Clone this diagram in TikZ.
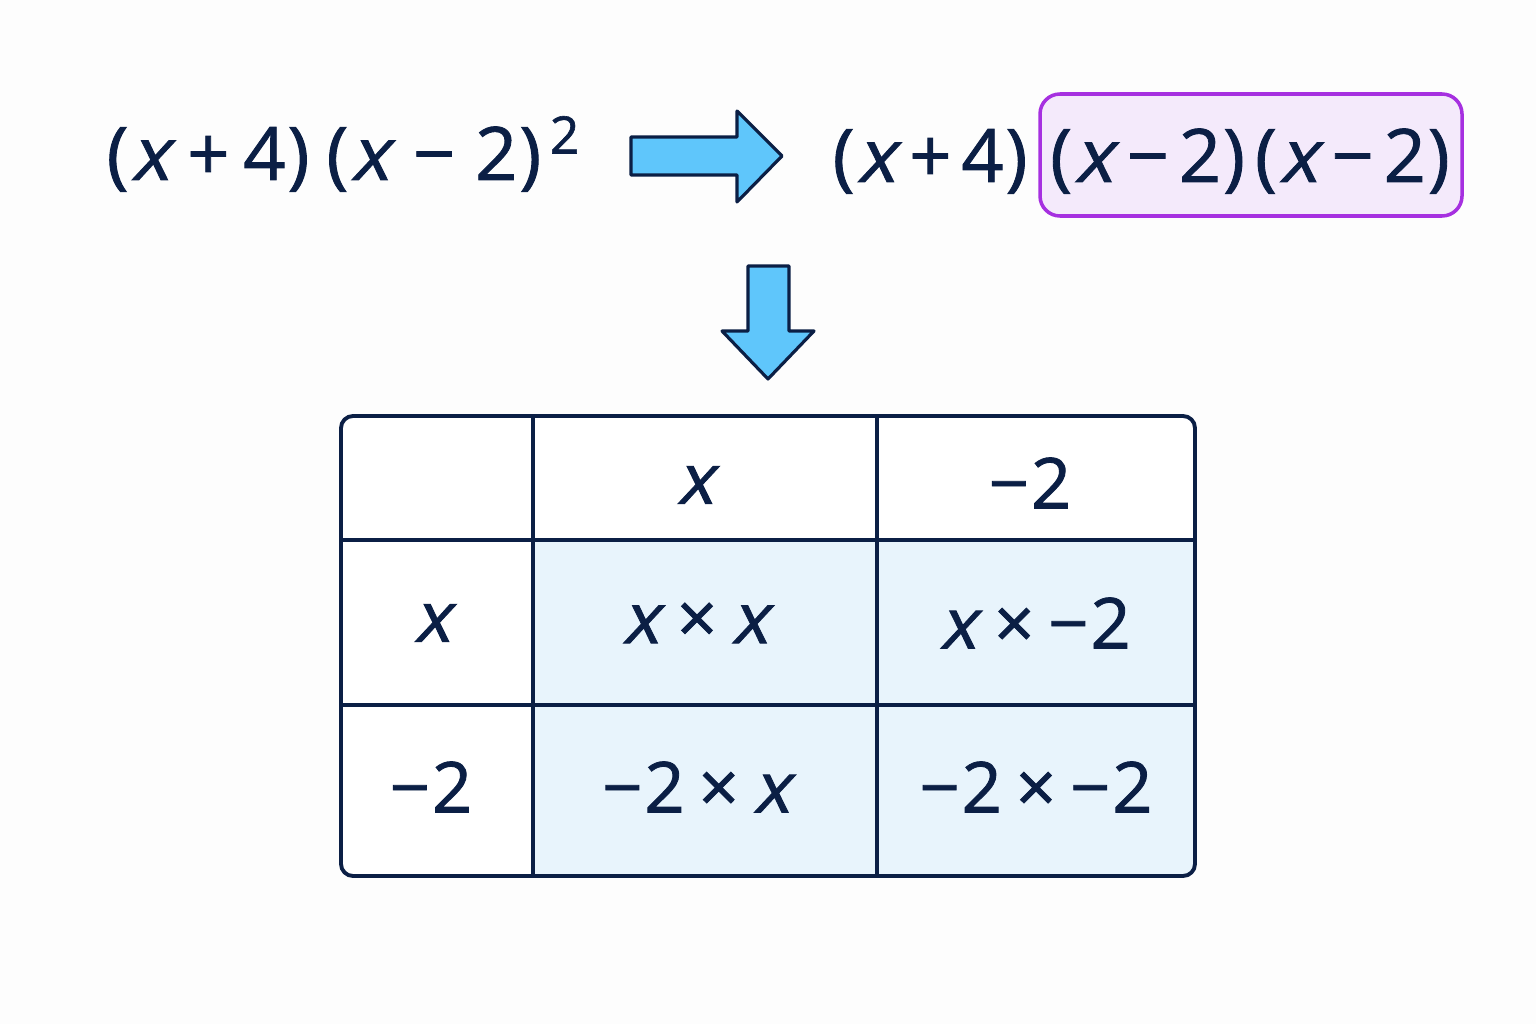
\documentclass[tikz,border=0pt]{standalone}
\usepackage{fontspec}
\setmainfont{Open Sans}[FakeBold=1.2]
\newfontfamily\xslant[FakeSlant=0.22,FakeBold=1.2]{Open Sans}
\usepackage{tikz}
\usetikzlibrary{arrows.meta, positioning}

\definecolor{ink}{HTML}{0B1F45}
\definecolor{arrowblue}{HTML}{5FC6FB}
\definecolor{boxpurple}{HTML}{A630E0}
\definecolor{boxfill}{HTML}{F4EAFB}
\definecolor{cellblue}{HTML}{E8F4FC}
\definecolor{paper}{HTML}{FDFDFD}

\newcommand{\xv}{{\xslant x}\kern0.04cm}
\newcommand{\pg}{\hspace{0.02cm}}
\newcommand{\og}{\hspace{0.1cm}}
\newcommand{\tg}{\hspace{0.14cm}}

\begin{document}
\begin{tikzpicture}[
    expr/.style={text=ink, inner sep=0pt, font=\fontsize{21}{25}\selectfont},
    cell/.style={text=ink, inner sep=0pt, font=\fontsize{20}{24}\selectfont},
    blockarrow/.style={draw=ink, fill=arrowblue, line width=0.9pt, line join=round}
]
    % Canvas
    \fill[paper] (0,0) rectangle (15.36,10.24);
    \useasboundingbox (0,0) rectangle (15.36,10.24);

    % Original expression
    \node[expr, anchor=base west] (orig) at (1.06,8.44)
        {(\pg\xv\tg+\tg4\pg)\hspace{0.17cm}(\pg\xv\hspace{0.2cm}\textminus\hspace{0.2cm}2\pg)\textsuperscript{\,2}};

    % Arrow to the right
    \draw[blockarrow] (6.31,8.87) -- (7.37,8.87) -- (7.37,9.13) -- (7.82,8.68)
        -- (7.37,8.22) -- (7.37,8.49) -- (6.31,8.49) -- cycle;

    % Expanded expression with highlighted square
    \node[draw=boxpurple, fill=boxfill, line width=1pt, rounded corners=0.2cm,
          minimum width=4.22cm, minimum height=1.22cm] (square) at (12.51,8.69) {};
    \node[expr, anchor=base west] (lin) at (8.32,8.42) {(\pg\xv\og+\og4\pg)};
    \node[expr, anchor=base] (sq) at (12.50,8.42)
        {(\pg\xv\og\textminus\og2\pg)\og(\pg\xv\og\textminus\og2\pg)};

    % Arrow down
    \draw[blockarrow] (7.48,7.58) -- (7.89,7.58) -- (7.89,6.93) -- (8.14,6.93)
        -- (7.68,6.45) -- (7.22,6.93) -- (7.48,6.93) -- cycle;

    % Grid
    \fill[white, rounded corners=0.12cm] (3.41,1.48) rectangle (11.95,6.08);
    \begin{scope}
        \clip[rounded corners=0.12cm] (3.41,1.48) rectangle (11.95,6.08);
        \fill[cellblue] (5.33,1.48) rectangle (11.95,4.84);
    \end{scope}
    \foreach \cx in {5.33,8.77}
        \draw[ink, line width=1.1pt] (\cx,1.48) -- (\cx,6.08);
    \foreach \cy in {3.19,4.84}
        \draw[ink, line width=1.1pt] (3.41,\cy) -- (11.95,\cy);
    \draw[ink, line width=1.1pt, rounded corners=0.12cm] (3.41,1.48) rectangle (11.95,6.08);

    % Headers
    \node[cell] (colx) at (6.97,5.39) {\xv};
    \node[cell] (coltwo) at (10.30,5.41) {\textminus\pg2};
    \node[cell] (rowx) at (4.34,4.01) {\xv};
    \node[cell] (rowtwo) at (4.31,2.37) {\textminus\pg2};

    % Products
    \node[cell] (xx) at (6.97,4.01) {\xv\tg\texttimes\tg\xv};
    \node[cell] (xtwo) at (10.35,4.01) {\xv\tg\texttimes\tg\textminus\pg2};
    \node[cell] (twox) at (6.98,2.37) {\textminus\pg2\tg\texttimes\tg\xv};
    \node[cell] (twotwo) at (10.36,2.37) {\textminus\pg2\tg\texttimes\tg\textminus\pg2};
\end{tikzpicture}
\end{document}
